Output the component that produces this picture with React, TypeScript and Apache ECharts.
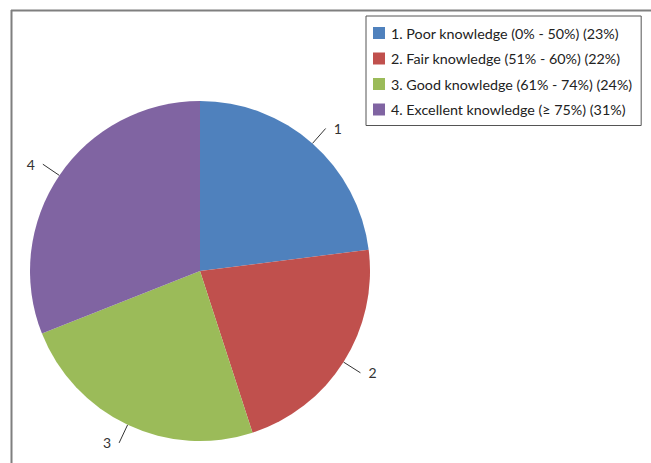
import React, { useEffect, useRef } from "react";
import * as echarts from "echarts";

const categories = [
  "1. Poor knowledge (0% - 50%) (23%)",
  "2. Fair knowledge (51% - 60%) (22%)",
  "3. Good knowledge (61% - 74%) (24%)",
  "4. Excellent knowledge (≥ 75%) (31%)",
];
const shortLabels = ["1", "2", "3", "4"];
const values = [23, 22, 24, 31];
const colors = ["#4F81BD", "#C0504D", "#9BBB59", "#8064A2"];

export default function App() {
  const ref = useRef<HTMLDivElement>(null);
  useEffect(() => {
    if (!ref.current) return;
    const chart = echarts.init(ref.current, null, { renderer: "svg" });
    const data = categories.map((name, i) => ({
      name,
      value: values[i],
      itemStyle: { color: colors[i] },
    }));
    chart.setOption({
      animation: false,
      backgroundColor: "#ffffff",
      legend: {
        orient: "vertical",
        left: 366,
        top: 16,
        data: categories,
        icon: "rect",
        itemWidth: 12,
        itemHeight: 12,
        itemGap: 9.5,
        padding: [9, 9, 8, 7],
        borderColor: "#555",
        borderWidth: 1,
        selectedMode: false,
        textStyle: {
          fontFamily: "Lato",
          fontSize: 14.3,
          lineHeight: 16,
          color: "#222",
          padding: [0, 0, 0, 1],
        },
      },
      graphic: [
        {
          type: "line",
          shape: { x1: 11, y1: 10.5, x2: 651, y2: 10.5 },
          style: { stroke: "#7f7f7f", lineWidth: 2 },
        },
        {
          type: "line",
          shape: { x1: 11.5, y1: 10, x2: 11.5, y2: 463 },
          style: { stroke: "#7f7f7f", lineWidth: 2 },
        },
      ],
      series: [
        {
          type: "pie",
          center: [200, 271],
          radius: 170,
          startAngle: 90,
          clockwise: true,
          data,
          itemStyle: { borderWidth: 0 },
          label: {
            show: true,
            position: "outside",
            formatter: (p: any) => shortLabels[p.dataIndex],
            fontFamily: "Lato",
            fontSize: 14,
            color: "#333",
            distanceToLabelLine: 8,
          },
          labelLine: {
            show: true,
            length: 20,
            length2: 0,
            smooth: false,
            lineStyle: { color: "#333", width: 1 },
          },
          emphasis: { disabled: true },
        },
      ],
    });
    return () => chart.dispose();
  }, []);
  return (
    <div
      ref={ref}
      style={{ position: "fixed", left: 0, top: 0, width: 651, height: 463 }}
    />
  );
}
